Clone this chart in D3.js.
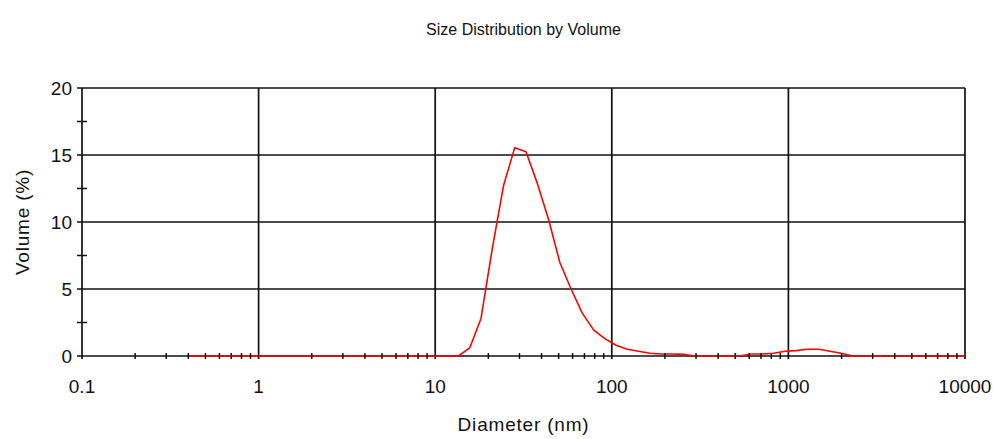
<!DOCTYPE html>
<html>
<head>
<meta charset="utf-8">
<script src="https://cdn.jsdelivr.net/npm/d3@7"></script>
<style>
  html, body { margin: 0; padding: 0; background: #fff; }
  svg { display: block; }
  text { font-family: "Liberation Sans", Arial, sans-serif; fill: #111; }
</style>
</head>
<body>
<svg id="chart" width="998" height="439"></svg>
<script>
// ---- data ----
const diameters = [0.4, 0.4632, 0.5365, 0.6213, 0.7195, 0.8332, 0.9649, 1.117, 1.294, 1.499,
  1.736, 2.01, 2.328, 2.696, 3.122, 3.615, 4.187, 4.849, 5.615, 6.503,
  7.531, 8.721, 10.1, 11.7, 13.54, 15.69, 18.17, 21.04, 24.36, 28.21,
  32.67, 37.84, 43.82, 50.75, 58.77, 68.06, 78.82, 91.28, 105.7, 122.4,
  141.8, 164.2, 190.1, 220.2, 255, 295.3, 342, 396.1, 458.7, 531.2,
  615.1, 712.4, 825, 955.4, 1106, 1281, 1484, 1718, 1990, 2305,
  2669, 3091, 3580, 4145, 4801, 5560, 6439, 7456, 8635, 10000];
const volumes = [0, 0, 0, 0, 0, 0, 0, 0, 0, 0,
  0, 0, 0, 0, 0, 0, 0, 0, 0, 0,
  0, 0, 0, 0, 0, 0.6, 2.8, 8.0, 12.7, 15.55,
  15.25, 12.9, 10.2, 7.0, 5.0, 3.2, 1.95, 1.3, 0.8, 0.5,
  0.35, 0.2, 0.15, 0.15, 0.12, 0, 0, 0, 0, 0,
  0.15, 0.15, 0.2, 0.35, 0.4, 0.5, 0.5, 0.35, 0.2, 0,
  0, 0, 0, 0, 0, 0, 0, 0, 0, 0];
const xMajorTicks = [0.1, 1, 10, 100, 1000, 10000];
const xTickLabels = ["0.1", "1", "10", "100", "1000", "10000"];
const yMajorTicks = [0, 5, 10, 15, 20];
const yMinorTicks = [2.5, 7.5, 12.5, 17.5];
const title = "Size Distribution by Volume";
const xTitle = "Diameter (nm)";
const yTitle = "Volume (%)";

// ---- layout ----
const L = 82, R = 965, T = 88, B = 356;
const svg = d3.select("#chart");
const x = d3.scaleLog().domain([0.1, 10000]).range([L, R]);
const y = d3.scaleLinear().domain([0, 20]).range([B, T]);

const xMinorTicks = [];
for (let e = -1; e < 4; e++) for (let k = 2; k <= 9; k++) xMinorTicks.push(k * Math.pow(10, e));

const gridColor = "#111";
const g = svg.append("g");

// horizontal grid lines
g.selectAll("line.hg").data(yMajorTicks).join("line")
  .attr("x1", L - 5).attr("x2", R)
  .attr("y1", d => y(d)).attr("y2", d => y(d))
  .attr("stroke", gridColor).attr("stroke-width", 1.7);

// vertical grid lines
g.selectAll("line.vg").data(xMajorTicks).join("line")
  .attr("x1", d => x(d)).attr("x2", d => x(d))
  .attr("y1", T).attr("y2", B + 3)
  .attr("stroke", gridColor).attr("stroke-width", 1.7);

// data line
const line = d3.line().x((d, i) => x(diameters[i])).y(d => y(d));
svg.append("path").datum(volumes)
  .attr("d", line)
  .attr("fill", "none")
  .attr("stroke", "#ff0000")
  .attr("stroke-width", 1.6)
  .attr("stroke-linejoin", "round");

// minor ticks
svg.selectAll("line.xm").data(xMinorTicks).join("line")
  .attr("x1", d => x(d)).attr("x2", d => x(d))
  .attr("y1", B - 3).attr("y2", B + 3)
  .attr("stroke", gridColor).attr("stroke-width", 1.5);
svg.selectAll("line.ym").data(yMinorTicks).join("line")
  .attr("x1", L - 5).attr("x2", L + 5)
  .attr("y1", d => y(d)).attr("y2", d => y(d))
  .attr("stroke", gridColor).attr("stroke-width", 1.5);

// tick labels
svg.selectAll("text.xl").data(xMajorTicks).join("text")
  .attr("x", d => x(d)).attr("y", 393)
  .attr("text-anchor", "middle")
  .attr("font-size", 19)
  .text((d, i) => xTickLabels[i]);
svg.selectAll("text.yl").data(yMajorTicks).join("text")
  .attr("x", 72).attr("y", d => y(d) + 7)
  .attr("text-anchor", "end")
  .attr("font-size", 19)
  .text(d => d);

// titles
svg.append("text").attr("x", (L + R) / 2).attr("y", 35)
  .attr("text-anchor", "middle").attr("font-size", 16).text(title);
svg.append("text").attr("x", (L + R) / 2).attr("y", 431)
  .attr("text-anchor", "middle").attr("font-size", 19)
  .attr("letter-spacing", 0.8).text(xTitle);
svg.append("text")
  .attr("transform", `translate(29, ${(T + B) / 2}) rotate(-90)`)
  .attr("text-anchor", "middle").attr("font-size", 19)
  .attr("letter-spacing", 0.8).text(yTitle);
</script>
</body>
</html>
